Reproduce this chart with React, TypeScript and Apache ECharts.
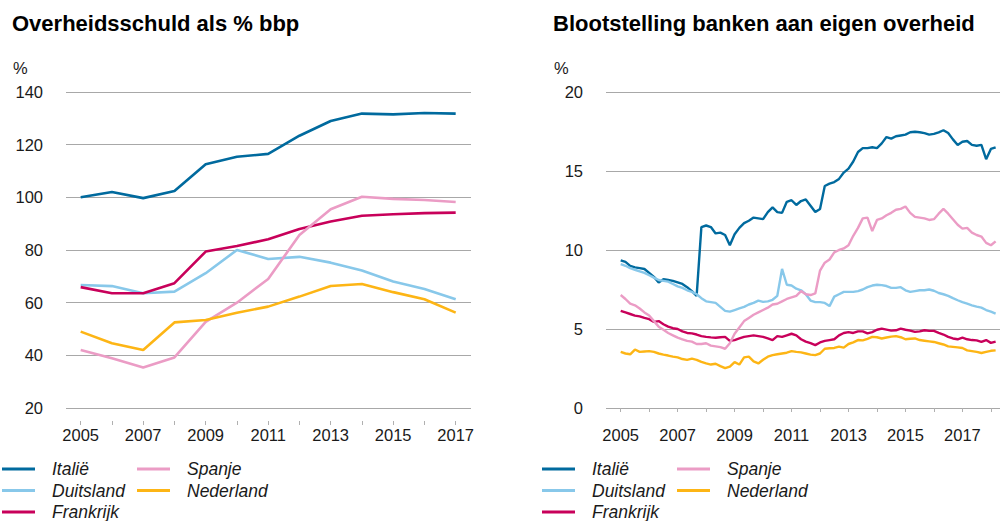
import React, { useEffect, useRef } from "react";
import * as echarts from "echarts";

// ---------- Data: Overheidsschuld als % bbp (annual) ----------
const debtYears = [2005, 2006, 2007, 2008, 2009, 2010, 2011, 2012, 2013, 2014, 2015, 2016, 2017];
const debtItalie = [100, 102, 99.7, 102.4, 112.6, 115.4, 116.5, 123.4, 129, 131.8, 131.5, 132, 131.8];
const debtDuitsland = [66.7, 66.3, 63.6, 64.2, 71.2, 80, 76.6, 77.4, 75.2, 72.2, 68, 65.2, 61.3];
const debtFrankrijk = [65.9, 63.6, 63.6, 67.4, 79.4, 81.5, 84.1, 88, 90.8, 93, 93.6, 94, 94.2];
const debtSpanje = [42, 38.9, 35.4, 39.2, 52.7, 60, 69, 85.7, 95.5, 100.2, 99.4, 99, 98.2];
const debtNederland = [49, 44.6, 42, 52.5, 53.4, 56.2, 58.5, 62.3, 66.3, 67.1, 64, 61.3, 56.2];

// ---------- Data: Blootstelling banken aan eigen overheid (bi-monthly, from Jan 2005) ----------
const expoDates = Array.from({ length: 80 }, (_, i) => 2005 + i / 6);
const expoItalie = [
  9.35, 9.25, 9.0, 8.9, 8.85, 8.8, 8.55, 8.3, 7.95, 8.15, 8.1, 8.05, 7.95, 7.85, 7.65, 7.4,
  7.1, 11.45, 11.55, 11.45, 11.05, 11.1, 10.95, 10.3, 11.0, 11.4, 11.7, 11.85, 12.05, 12.0,
  11.95, 12.4, 12.7, 12.4, 12.35, 13.05, 13.15, 12.85, 13.1, 13.2, 12.8, 12.4, 12.6, 14.05,
  14.2, 14.3, 14.5, 14.9, 15.15, 15.6, 16.2, 16.45, 16.45, 16.5, 16.45, 16.75, 17.15, 17.05,
  17.2, 17.25, 17.3, 17.45, 17.48, 17.45, 17.4, 17.3, 17.35, 17.45, 17.58, 17.4, 17.0, 16.65,
  16.85, 16.9, 16.65, 16.6, 16.65, 15.75, 16.4, 16.5,
];
const expoDuitsland = [
  9.1, 9.0, 8.85, 8.75, 8.65, 8.55, 8.4, 8.25, 8.1, 8.05, 8.0, 7.85, 7.7, 7.6, 7.45, 7.35,
  7.2, 6.95, 6.75, 6.7, 6.65, 6.4, 6.15, 6.1, 6.2, 6.3, 6.4, 6.55, 6.65, 6.8, 6.72, 6.75,
  6.85, 7.1, 8.8, 7.8, 7.75, 7.55, 7.45, 7.2, 6.8, 6.7, 6.7, 6.65, 6.45, 7.05, 7.2, 7.35,
  7.35, 7.35, 7.4, 7.5, 7.65, 7.75, 7.8, 7.78, 7.72, 7.6, 7.6, 7.65, 7.45, 7.35, 7.4, 7.45,
  7.45, 7.5, 7.42, 7.28, 7.2, 7.1, 6.95, 6.82, 6.7, 6.6, 6.5, 6.42, 6.35, 6.2, 6.1, 5.98,
];
const expoFrankrijk = [
  6.15, 6.05, 5.95, 5.85, 5.8, 5.7, 5.62, 5.45, 5.5, 5.3, 5.15, 5.05, 5.0, 4.85, 4.75, 4.72,
  4.65, 4.55, 4.5, 4.47, 4.45, 4.48, 4.5, 4.25, 4.3, 4.4, 4.5, 4.55, 4.6, 4.55, 4.5, 4.4,
  4.3, 4.55, 4.5, 4.6, 4.7, 4.6, 4.35, 4.2, 4.1, 3.98, 4.15, 4.25, 4.3, 4.35, 4.6, 4.75,
  4.8, 4.75, 4.85, 4.85, 4.72, 4.8, 4.95, 5.02, 4.96, 4.9, 4.92, 5.02, 4.95, 4.9, 4.82, 4.85,
  4.92, 4.88, 4.88, 4.75, 4.65, 4.5, 4.4, 4.35, 4.45, 4.35, 4.3, 4.28, 4.18, 4.3, 4.12, 4.2,
];
const expoSpanje = [
  7.15, 6.9, 6.6, 6.5, 6.3, 6.05, 5.85, 5.5, 5.15, 4.95, 4.75, 4.6, 4.45, 4.35, 4.25, 4.2,
  4.05, 4.05, 4.1, 3.95, 3.9, 3.85, 3.75, 4.1, 4.7, 5.1, 5.5, 5.7, 5.9, 6.05, 6.2, 6.35,
  6.55, 6.6, 6.75, 6.9, 7.0, 7.1, 7.4, 7.2, 7.15, 7.25, 8.7, 9.2, 9.4, 9.85, 10.0, 10.1,
  10.3, 10.9, 11.4, 12.0, 12.05, 11.2, 11.9, 12.0, 12.2, 12.35, 12.55, 12.6, 12.75, 12.35,
  12.1, 12.05, 12.0, 11.9, 11.95, 12.3, 12.6, 12.3, 11.95, 11.6, 11.35, 11.4, 11.1, 10.95,
  10.85, 10.45, 10.3, 10.55,
];
const expoNederland = [
  3.55, 3.45, 3.4, 3.7, 3.55, 3.58, 3.6, 3.55, 3.45, 3.38, 3.32, 3.25, 3.2, 3.1, 3.05, 3.12,
  3.05, 2.92, 2.82, 2.75, 2.8, 2.65, 2.52, 2.62, 2.9, 2.75, 3.2, 3.25, 2.95, 2.82, 3.05, 3.25,
  3.35, 3.4, 3.45, 3.5, 3.6, 3.55, 3.52, 3.45, 3.38, 3.35, 3.45, 3.75, 3.78, 3.8, 3.88, 3.82,
  4.05, 4.15, 4.3, 4.28, 4.38, 4.5, 4.48, 4.4, 4.46, 4.52, 4.55, 4.48, 4.35, 4.38, 4.4, 4.3,
  4.26, 4.22, 4.18, 4.1, 4.02, 3.9, 3.87, 3.84, 3.8, 3.65, 3.6, 3.55, 3.48, 3.55, 3.62, 3.65,
];

const names = ["Italië", "Duitsland", "Frankrijk", "Spanje", "Nederland"];
const colors = ["#006a9e", "#88c8ea", "#c8005a", "#eb9cc5", "#fdb515"];
const leftTicks = [2005, 2006, 2007, 2008, 2009, 2010, 2011, 2012, 2013, 2014, 2015, 2016, 2017];
const leftLabels = [2005, 2007, 2009, 2011, 2013, 2015, 2017];
const rightTicks = [2005, 2006, 2007, 2008, 2009, 2010, 2011, 2012, 2013, 2014, 2015, 2016, 2017, 2018];
const rightLabels = [2005, 2007, 2009, 2011, 2013, 2015, 2017];

const FONT = "'Liberation Sans', Arial, Helvetica, sans-serif";
const TEXT = "#1a1a1a";

function pairs(xs: number[], ys: number[]) {
  return ys.map((y, i) => [xs[i], y]);
}

function xAxisCfg(gridIndex: number, min: number, max: number, ticks: number[], labels: number[]) {
  return {
    type: "value",
    gridIndex,
    min,
    max,
    offset: 13,
    axisLine: { show: false },
    splitLine: { show: false },
    axisTick: { show: true, length: 4, customValues: ticks, lineStyle: { color: "#b0b0b0", width: 1 } },
    axisLabel: {
      customValues: labels,
      formatter: (v: number) => String(v),
      fontFamily: FONT,
      fontSize: 16.5,
      color: TEXT,
      margin: 5,
    },
  };
}

function yAxisCfg(gridIndex: number, min: number, max: number, interval: number) {
  return {
    type: "value",
    gridIndex,
    min,
    max,
    interval,
    axisLine: { show: false },
    axisTick: { show: false },
    splitLine: { show: true, lineStyle: { color: "#a8a8a8", width: 1 } },
    axisLabel: { fontFamily: FONT, fontSize: 16.5, color: TEXT, margin: 23 },
  };
}

function legendCfg(left: number, top: number, data: string[]) {
  return {
    orient: "vertical",
    left,
    top,
    width: 160,
    height: 120,
    padding: 0,
    data,
    icon: "rect",
    itemWidth: 33,
    itemHeight: 3,
    itemGap: 3.5,
    selectedMode: false,
    textStyle: {
      fontFamily: FONT,
      fontSize: 17.5,
      fontStyle: "italic",
      color: TEXT,
      lineHeight: 16,
      padding: [0, 0, 0, 12],
    },
  };
}

export default function App() {
  const ref = useRef<HTMLDivElement>(null);

  useEffect(() => {
    document.body.style.margin = "0";
    if (!ref.current) return;
    const chart = echarts.init(ref.current, null, { renderer: "svg" });

    const debtSets = [debtItalie, debtDuitsland, debtFrankrijk, debtSpanje, debtNederland];
    const expoSets = [expoItalie, expoDuitsland, expoFrankrijk, expoSpanje, expoNederland];

    const series: any[] = [];
    debtSets.forEach((d, i) =>
      series.push({
        name: names[i],
        type: "line",
        xAxisIndex: 0,
        yAxisIndex: 0,
        data: pairs(debtYears, d),
        showSymbol: false,
        color: colors[i],
        lineStyle: { width: 2.6, color: colors[i] },
      })
    );
    expoSets.forEach((d, i) =>
      series.push({
        name: names[i],
        type: "line",
        xAxisIndex: 1,
        yAxisIndex: 1,
        data: pairs(expoDates, d),
        showSymbol: false,
        color: colors[i],
        lineStyle: { width: 2.4, color: colors[i] },
      })
    );

    chart.setOption({
      animation: false,
      title: [
        {
          text: "Overheidsschuld als % bbp",
          left: 7,
          top: 7,
          textStyle: { fontFamily: FONT, fontSize: 22, fontWeight: "bold", color: "#000" },
        },
        {
          text: "Blootstelling banken aan eigen overheid",
          left: 548,
          top: 7,
          textStyle: { fontFamily: FONT, fontSize: 22, fontWeight: "bold", color: "#000" },
        },
      ],
      graphic: [
        { type: "text", left: 13, top: 59, style: { text: "%", fontFamily: FONT, fontSize: 16.5, fill: TEXT } },
        { type: "text", left: 554, top: 59, style: { text: "%", fontFamily: FONT, fontSize: 16.5, fill: TEXT } },
      ],
      grid: [
        { left: 66, right: 531, top: 92, bottom: 113, containLabel: false },
        { left: 606, right: 2, top: 92, bottom: 113, containLabel: false },
      ],
      xAxis: [
        xAxisCfg(0, 2004.53, 2017.49, leftTicks, leftLabels),
        xAxisCfg(1, 2004.484, 2018.32, rightTicks, rightLabels),
      ],
      yAxis: [yAxisCfg(0, 20, 140, 20), yAxisCfg(1, 0, 20, 5)],
      legend: [
        legendCfg(2, 460, ["Italië", "Duitsland", "Frankrijk"]),
        legendCfg(137, 460, ["Spanje", "Nederland"]),
        legendCfg(542, 460, ["Italië", "Duitsland", "Frankrijk"]),
        legendCfg(677, 460, ["Spanje", "Nederland"]),
      ],
      series,
    });

    return () => chart.dispose();
  }, []);

  return <div ref={ref} style={{ width: 1002, height: 521 }} />;
}
